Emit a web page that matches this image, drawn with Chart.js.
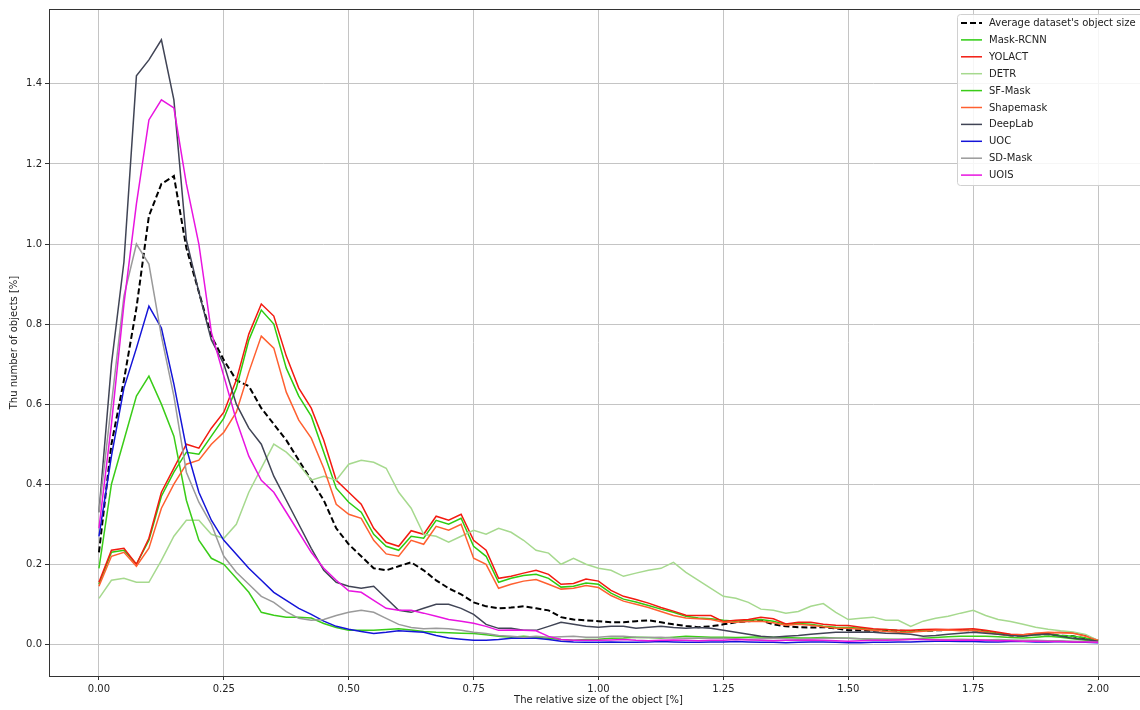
<!DOCTYPE html>
<html>
<head>
<meta charset="utf-8">
<script src="https://cdn.jsdelivr.net/npm/chart.js@4.4.0/dist/chart.umd.min.js"></script>
<style>
  html, body { margin: 0; padding: 0; background: #fff; overflow: hidden; }
  #wrap { width: 1148px; height: 710px; }
</style>
</head>
<body>
<div id="wrap"><canvas id="chart" width="1148" height="710"></canvas></div>
<script>
// relative object size [%], one sample every 0.025
const xs = [
  0.000, 0.025, 0.050, 0.075, 0.100, 0.125, 0.150, 0.175, 0.200, 0.225,
  0.250, 0.275, 0.300, 0.325, 0.350, 0.375, 0.400, 0.425, 0.450, 0.475,
  0.500, 0.525, 0.550, 0.575, 0.600, 0.625, 0.650, 0.675, 0.700, 0.725,
  0.750, 0.775, 0.800, 0.825, 0.850, 0.875, 0.900, 0.925, 0.950, 0.975,
  1.000, 1.025, 1.050, 1.075, 1.100, 1.125, 1.150, 1.175, 1.200, 1.225,
  1.250, 1.275, 1.300, 1.325, 1.350, 1.375, 1.400, 1.425, 1.450, 1.475,
  1.500, 1.525, 1.550, 1.575, 1.600, 1.625, 1.650, 1.675, 1.700, 1.725,
  1.750, 1.775, 1.800, 1.825, 1.850, 1.875, 1.900, 1.925, 1.950, 1.975,
  2.000
];

const average = [
  0.23, 0.50, 0.66, 0.84, 1.07, 1.15, 1.17, 0.99, 0.88, 0.77,
  0.71, 0.66, 0.645, 0.59, 0.55, 0.51, 0.46, 0.41, 0.36, 0.29,
  0.25, 0.22, 0.19, 0.185, 0.195, 0.205, 0.185, 0.16, 0.14, 0.125,
  0.105, 0.095, 0.09, 0.092, 0.095, 0.09, 0.085, 0.068, 0.062, 0.06,
  0.058, 0.055, 0.055, 0.058, 0.06, 0.055, 0.05, 0.046, 0.043, 0.045,
  0.05, 0.055, 0.058, 0.06, 0.05, 0.045, 0.043, 0.042, 0.043, 0.04,
  0.035, 0.035, 0.034, 0.035, 0.034, 0.033, 0.034, 0.035, 0.036, 0.036,
  0.035, 0.032, 0.028, 0.022, 0.022, 0.025, 0.025, 0.022, 0.02, 0.015,
  0.01
];

const maskRcnn = [
  0.15, 0.23, 0.235, 0.20, 0.26, 0.37, 0.43, 0.48, 0.475, 0.52,
  0.565, 0.64, 0.76, 0.835, 0.80, 0.69, 0.62, 0.57, 0.48, 0.39,
  0.355, 0.33, 0.275, 0.245, 0.235, 0.27, 0.265, 0.31, 0.30, 0.315,
  0.245, 0.22, 0.155, 0.165, 0.172, 0.175, 0.165, 0.143, 0.145, 0.153,
  0.15, 0.128, 0.113, 0.106, 0.097, 0.088, 0.08, 0.07, 0.066, 0.064,
  0.06, 0.058, 0.06, 0.062, 0.058, 0.05, 0.052, 0.05, 0.045, 0.043,
  0.042, 0.04, 0.036, 0.037, 0.034, 0.033, 0.034, 0.035, 0.036, 0.035,
  0.035, 0.032, 0.028, 0.024, 0.022, 0.024, 0.025, 0.022, 0.02, 0.016,
  0.008
];

const yolact = [
  0.155, 0.235, 0.24, 0.20, 0.265, 0.38, 0.44, 0.50, 0.49, 0.54,
  0.58, 0.66, 0.775, 0.85, 0.82, 0.72, 0.64, 0.59, 0.51, 0.41,
  0.38, 0.35, 0.29, 0.255, 0.245, 0.284, 0.275, 0.32, 0.31, 0.325,
  0.26, 0.235, 0.165, 0.17, 0.178, 0.185, 0.175, 0.15, 0.152, 0.163,
  0.158, 0.135, 0.12, 0.112, 0.103, 0.092, 0.083, 0.073, 0.072, 0.072,
  0.057, 0.06, 0.062, 0.068, 0.064, 0.051, 0.055, 0.055, 0.05, 0.048,
  0.047, 0.043, 0.039, 0.037, 0.035, 0.035, 0.037, 0.038, 0.037, 0.038,
  0.039, 0.035, 0.03, 0.025, 0.024, 0.027, 0.028, 0.03, 0.029, 0.022,
  0.01
];

const detr = [
  0.115, 0.16, 0.165, 0.155, 0.155, 0.21, 0.27, 0.31, 0.31, 0.275,
  0.265, 0.30, 0.38, 0.44, 0.50, 0.48, 0.45, 0.41, 0.42, 0.41,
  0.45, 0.46, 0.455, 0.44, 0.38, 0.34, 0.275, 0.27, 0.255, 0.27,
  0.285, 0.275, 0.29, 0.28, 0.26, 0.235, 0.228, 0.20, 0.215, 0.20,
  0.19, 0.185, 0.17, 0.178, 0.185, 0.19, 0.205, 0.18, 0.16, 0.14,
  0.12, 0.115, 0.105, 0.088, 0.085, 0.078, 0.082, 0.095, 0.102, 0.08,
  0.062, 0.065, 0.068, 0.06, 0.06, 0.045, 0.058, 0.065, 0.07, 0.078,
  0.085, 0.072, 0.062, 0.057, 0.05, 0.043, 0.038, 0.034, 0.031, 0.025,
  0.01
];

const sfMask = [
  0.19, 0.40, 0.51, 0.62, 0.67, 0.60, 0.52, 0.36, 0.26, 0.215,
  0.20, 0.165, 0.13, 0.08, 0.073, 0.068, 0.068, 0.066, 0.052, 0.042,
  0.035, 0.035, 0.035, 0.037, 0.039, 0.036, 0.032, 0.03, 0.029, 0.028,
  0.027, 0.024, 0.02, 0.018, 0.02, 0.018, 0.015, 0.012, 0.01, 0.012,
  0.013, 0.015, 0.016, 0.018, 0.017, 0.016, 0.018, 0.02, 0.019, 0.018,
  0.018, 0.017, 0.018, 0.019, 0.018, 0.017, 0.016, 0.016, 0.017, 0.016,
  0.015, 0.014, 0.013, 0.013, 0.012, 0.013, 0.015, 0.017, 0.019, 0.02,
  0.02, 0.02, 0.019, 0.017, 0.016, 0.018, 0.02, 0.018, 0.014, 0.01,
  0.005
];

const shapemask = [
  0.145, 0.22, 0.23, 0.195, 0.24, 0.34, 0.40, 0.45, 0.46, 0.50,
  0.53, 0.58, 0.68, 0.77, 0.74, 0.63, 0.56, 0.515, 0.44, 0.35,
  0.325, 0.315, 0.26, 0.226, 0.22, 0.26, 0.25, 0.295, 0.285, 0.30,
  0.215, 0.20, 0.14, 0.15, 0.158, 0.162, 0.15, 0.138, 0.14, 0.147,
  0.142, 0.122, 0.108, 0.10, 0.092, 0.082, 0.072, 0.066, 0.064, 0.062,
  0.055, 0.055, 0.057, 0.058, 0.054, 0.048, 0.05, 0.048, 0.044, 0.04,
  0.04, 0.038, 0.035, 0.032, 0.03, 0.03, 0.033, 0.035, 0.036, 0.034,
  0.035, 0.03, 0.025, 0.022, 0.024, 0.028, 0.03, 0.029, 0.028, 0.02,
  0.01
];

const deepLab = [
  0.33, 0.70, 0.955, 1.42, 1.46, 1.51, 1.36, 1.01, 0.88, 0.76,
  0.70, 0.60, 0.54, 0.50, 0.42, 0.36, 0.30, 0.24, 0.185, 0.155,
  0.145, 0.14, 0.145, 0.115, 0.085, 0.08, 0.09, 0.10, 0.10, 0.09,
  0.075, 0.05, 0.04, 0.04, 0.035, 0.035, 0.045, 0.055, 0.05, 0.045,
  0.043, 0.045, 0.045, 0.04, 0.043, 0.045, 0.042, 0.04, 0.042, 0.04,
  0.035, 0.03, 0.025, 0.02, 0.018, 0.02, 0.022, 0.025, 0.028, 0.03,
  0.03, 0.031, 0.03, 0.028, 0.027, 0.025, 0.02, 0.022, 0.025, 0.028,
  0.03, 0.028, 0.025, 0.022, 0.02, 0.024, 0.026, 0.02, 0.015, 0.012,
  0.008
];

const uoc = [
  0.27, 0.47, 0.64, 0.74, 0.845, 0.79, 0.65, 0.49, 0.38, 0.31,
  0.26, 0.225, 0.19, 0.16, 0.13, 0.11, 0.09, 0.075, 0.058, 0.045,
  0.038, 0.032, 0.027, 0.03, 0.034, 0.032, 0.03, 0.022, 0.016, 0.013,
  0.01, 0.01, 0.012, 0.015, 0.016, 0.015, 0.012, 0.008, 0.006, 0.005,
  0.005, 0.006, 0.005, 0.005, 0.006, 0.007, 0.006, 0.005, 0.005, 0.006,
  0.006, 0.007, 0.006, 0.005, 0.005, 0.004, 0.005, 0.006, 0.006, 0.005,
  0.004, 0.004, 0.005, 0.005, 0.006, 0.006, 0.007, 0.008, 0.008, 0.007,
  0.007, 0.006, 0.006, 0.007, 0.007, 0.006, 0.006, 0.007, 0.006, 0.005,
  0.004
];

const sdMask = [
  0.33, 0.60, 0.87, 1.00, 0.95, 0.77, 0.62, 0.43, 0.355, 0.30,
  0.22, 0.18, 0.15, 0.12, 0.105, 0.082, 0.065, 0.06, 0.062, 0.072,
  0.08, 0.085, 0.08, 0.065, 0.05, 0.042, 0.039, 0.04, 0.039, 0.035,
  0.03, 0.027, 0.022, 0.02, 0.018, 0.02, 0.018, 0.019, 0.02, 0.018,
  0.018, 0.02, 0.02, 0.018, 0.017, 0.018, 0.016, 0.015, 0.016, 0.015,
  0.015, 0.014, 0.013, 0.014, 0.015, 0.014, 0.013, 0.014, 0.015, 0.016,
  0.015, 0.014, 0.013, 0.012, 0.013, 0.014, 0.013, 0.012, 0.012, 0.013,
  0.012, 0.011, 0.012, 0.011, 0.01, 0.01, 0.009, 0.009, 0.008, 0.007,
  0.005
];

const uois = [
  0.29, 0.55, 0.85, 1.10, 1.31, 1.36, 1.34, 1.15, 1.00, 0.78,
  0.67, 0.56, 0.47, 0.41, 0.38, 0.33, 0.28, 0.23, 0.19, 0.16,
  0.134, 0.13, 0.11, 0.09, 0.085, 0.085, 0.078, 0.07, 0.062, 0.058,
  0.053, 0.045, 0.035, 0.036, 0.035, 0.034, 0.02, 0.012, 0.01, 0.01,
  0.01, 0.011, 0.012, 0.01, 0.009, 0.01, 0.011, 0.01, 0.009, 0.01,
  0.01, 0.012, 0.011, 0.01, 0.009, 0.01, 0.01, 0.011, 0.01, 0.009,
  0.008, 0.009, 0.01, 0.01, 0.011, 0.012, 0.012, 0.011, 0.01, 0.01,
  0.011, 0.01, 0.009, 0.009, 0.008, 0.008, 0.007, 0.007, 0.006, 0.006,
  0.005
];

const seriesNames = ["Average dataset's object size", 'Mask-RCNN', 'YOLACT', 'DETR', 'SF-Mask',
  'Shapemask', 'DeepLab', 'UOC', 'SD-Mask', 'UOIS'];
const seriesValues = [average, maskRcnn, yolact, detr, sfMask, shapemask, deepLab, uoc, sdMask, uois];
const seriesColors = ['#000000', '#2ecc10', '#f31a10', '#a6d98e', '#3acc18',
  '#ff6030', '#404455', '#1414d8', '#9a9a9a', '#e814e0'];

const xTicks = [0, 0.25, 0.5, 0.75, 1.0, 1.25, 1.5, 1.75, 2.0];
const yTicks = [0, 0.2, 0.4, 0.6, 0.8, 1.0, 1.2, 1.4];

Chart.defaults.font.family = 'DejaVu Sans';
Chart.defaults.font.size = 10;
Chart.defaults.color = '#222';

// matplotlib-like frame around the plot
const frame = {
    id: 'frame',
    beforeDatasetsDraw(chart) {
        const { ctx, chartArea: a } = chart;
        ctx.save();
        ctx.strokeStyle = '#333';
        ctx.lineWidth = 1;
        ctx.strokeRect(a.left + 0.5, a.top + 0.5, a.right - a.left - 1, a.bottom - a.top);
        ctx.restore();
    }
};

// legend box in the upper right corner
const legendBox = {
    id: 'legendBox',
    afterDatasetsDraw(chart) {
        const { ctx, chartArea: a } = chart;
        const sets = chart.data.datasets;
        const rowH = 16.9;
        const w = 186, h = sets.length * rowH + 2;
        const x0 = a.right - 5 - w, y0 = a.top + 5;
        ctx.save();
        ctx.fillStyle = 'rgba(255,255,255,0.85)';
        ctx.strokeStyle = '#d0d0d0';
        ctx.lineWidth = 1;
        ctx.beginPath();
        ctx.roundRect(x0 + 0.5, y0 + 0.5, w, h, 3);
        ctx.fill();
        ctx.stroke();
        ctx.font = '10px "DejaVu Sans"';
        ctx.textBaseline = 'middle';
        sets.forEach((ds, i) => {
            const y = y0 + 9 + i * rowH;
            ctx.strokeStyle = ds.borderColor;
            ctx.lineWidth = ds.borderWidth;
            ctx.setLineDash(ds.borderDash || []);
            ctx.beginPath();
            ctx.moveTo(x0 + 4, y);
            ctx.lineTo(x0 + 25, y);
            ctx.stroke();
            ctx.setLineDash([]);
            ctx.fillStyle = '#222';
            ctx.fillText(ds.label, x0 + 32, y + 0.5);
        });
        ctx.restore();
    }
};

const datasets = seriesNames.map((name, i) => ({
    label: name,
    data: xs.map((x, j) => ({ x: x, y: seriesValues[i][j] })),
    borderColor: seriesColors[i],
    borderWidth: i === 0 ? 2 : 1.5,
    borderDash: i === 0 ? [6, 3] : undefined,
    pointRadius: 0,
    tension: 0,
    fill: false,
    order: seriesNames.length - 1 - i
}));

new Chart(document.getElementById('chart'), {
    type: 'line',
    data: { datasets: datasets },
    options: {
        responsive: false,
        animation: false,
        layout: { padding: { top: 6, left: 0, right: 0, bottom: 0 } },
        plugins: {
            legend: { display: false },
            tooltip: { enabled: false }
        },
        scales: {
            x: {
                type: 'linear',
                min: -0.1,
                max: 2.1,
                afterFit: scale => { scale.height = 34; },
                afterBuildTicks: scale => { scale.ticks = xTicks.map(v => ({ value: v })); },
                ticks: { callback: v => v.toFixed(2), padding: 3, maxRotation: 0, autoSkip: false },
                grid: { color: '#c4c4c4', lineWidth: 1, drawTicks: true, tickLength: 4, tickColor: '#333' },
                border: { display: false },
                title: { display: true, text: 'The relative size of the object [%]', padding: { top: 0, bottom: 4 } }
            },
            y: {
                min: -0.079,
                max: 1.587,
                afterFit: scale => { scale.width = 49; },
                afterBuildTicks: scale => { scale.ticks = yTicks.map(v => ({ value: v })); },
                ticks: { callback: v => v.toFixed(1), padding: 3, autoSkip: false },
                grid: { color: '#c4c4c4', lineWidth: 1, drawTicks: true, tickLength: 4, tickColor: '#333' },
                border: { display: false },
                title: { display: true, text: 'Thu number of objects [%]', padding: { top: 8, bottom: 0 } }
            }
        }
    },
    plugins: [frame, legendBox]
});
</script>
</body>
</html>
